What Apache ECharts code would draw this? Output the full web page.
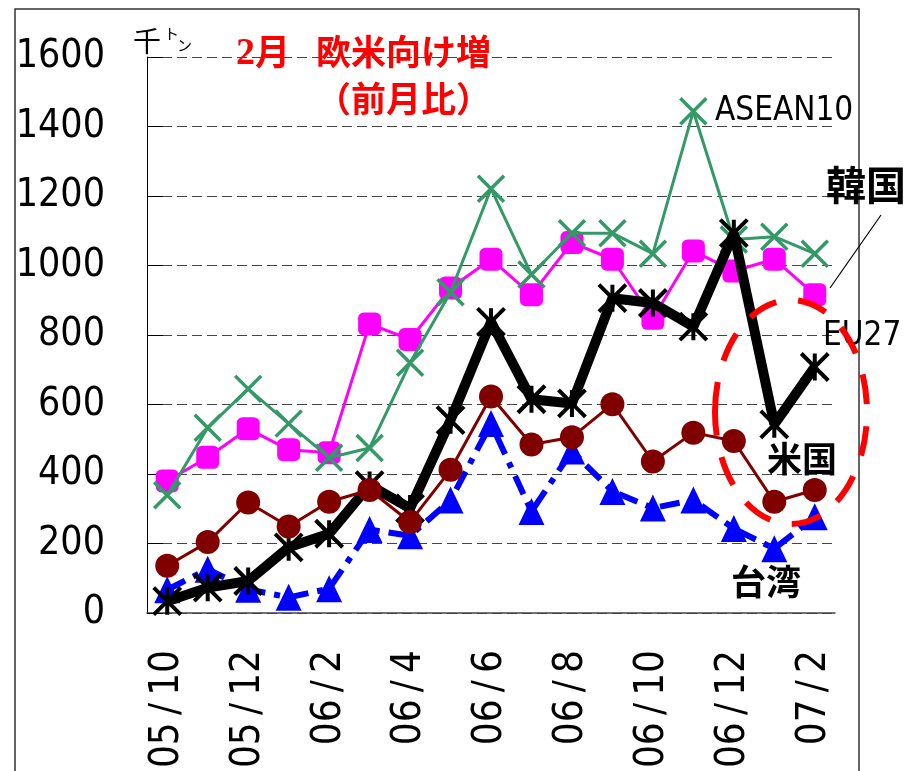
<!DOCTYPE html>
<html>
<head>
<meta charset="utf-8">
<script src="https://cdn.jsdelivr.net/npm/echarts@6/dist/echarts.min.js"></script>
<style>
html,body{margin:0;padding:0;background:#fff;}
#c{width:921px;height:771px;}
</style>
</head>
<body>
<div id="c"></div>
<script>
// ---- data ----
var categories = ['05/10','05/11','05/12','06/1','06/2','06/3','06/4','06/5','06/6','06/7','06/8','06/9','06/10','06/11','06/12','07/1','07/2'];
var asean10 = [339, 533, 645, 545, 447, 475, 720, 923, 1221, 974, 1093, 1093, 1034, 1444, 1075, 1083, 1034];
var korea   = [380, 448, 530, 470, 461, 832, 787, 935, 1018, 916, 1066, 1018, 848, 1042, 984, 1018, 916];
var eu27    = [34, 73, 92, 189, 228, 368, 301, 555, 838, 615, 603, 906, 892, 824, 1093, 543, 708];
var usa     = [136, 204, 318, 249, 320, 354, 262, 412, 623, 485, 506, 601, 436, 519, 495, 320, 354];
var taiwan  = [67, 126, 68, 45, 70, 240, 222, 325, 545, 292, 466, 350, 302, 325, 243, 185, 277];
var yTicks = {min: 0, max: 1600, interval: 200};
var seriesNames = ['台湾', '韓国', 'ASEAN10', 'EU27', '米国'];
var titleNum = '2';
var titleMonth = '月';
var titleLine1b = '欧米向け増';
var titleLine2 = '（前月比）';

var narrow = "'DejaVu Sans Condensed', 'Liberation Sans', sans-serif";
var cjk = "'Noto Sans CJK JP', sans-serif";

var chart = echarts.init(document.getElementById('c'), null, {renderer: 'canvas'});
var xPath = 'path://M0,0L20,20M20,0L0,20';
var starPath = 'path://M10,0L10,20M0,0L20,20M0,20L20,0';

var option = {
  animation: false,
  backgroundColor: '#fff',
  grid: {left: 147, top: 57, width: 688, height: 556, outerBoundsMode: 'none', containLabel: false},
  xAxis: {
    type: 'category',
    data: categories,
    boundaryGap: true,
    axisLine: {lineStyle: {color: '#444', width: 1.5}},
    axisTick: {inside: true, length: 11, interval: 0, lineStyle: {color: '#333', width: 1}},
    axisLabel: {
      interval: 1, rotate: 90, margin: 37,
      fontFamily: narrow, fontSize: 40, color: '#000',
      formatter: function (v) { return v.replace('/', '\u2009/\u2009'); }
    },
    splitLine: {show: false}
  },
  yAxis: {
    type: 'value',
    min: yTicks.min, max: yTicks.max, interval: yTicks.interval,
    axisLine: {show: true, lineStyle: {color: '#000', width: 1}},
    axisTick: {show: true, inside: true, length: 16, lineStyle: {color: '#000'}},
    axisLabel: {margin: 42, fontFamily: narrow, fontSize: 39, color: '#000', padding: [0, 0, 12, 0],
      formatter: function (v) { return String(v); }},
    splitLine: {show: true, lineStyle: {type: [10, 5], color: '#444', width: 1}}
  },
  series: [
    {
      name: seriesNames[0], type: 'line', data: taiwan, z: 2, showAllSymbol: true,
      symbol: 'triangle', symbolSize: [26, 27],
      lineStyle: {color: '#0000ff', width: 6, type: [20, 9, 6, 9]},
      itemStyle: {color: '#0000ff'}
    },
    {
      name: seriesNames[1], type: 'line', data: korea, z: 3, showAllSymbol: true,
      symbol: 'roundRect', symbolSize: 23,
      lineStyle: {color: '#ff00ff', width: 3},
      itemStyle: {color: '#ff00ff'}
    },
    {
      name: seriesNames[2], type: 'line', data: asean10, z: 4, showAllSymbol: true,
      symbol: xPath, symbolSize: 26,
      lineStyle: {color: '#339966', width: 3},
      itemStyle: {color: 'rgba(0,0,0,0)', borderColor: '#339966', borderWidth: 3.5}
    },
    {
      name: seriesNames[3], type: 'line', data: eu27, z: 5, showAllSymbol: true,
      symbol: starPath, symbolSize: 27,
      lineStyle: {color: '#000', width: 10},
      itemStyle: {color: 'rgba(0,0,0,0)', borderColor: '#000', borderWidth: 4}
    },
    {
      name: seriesNames[4], type: 'line', data: usa, z: 6, showAllSymbol: true,
      symbol: 'circle', symbolSize: 24,
      lineStyle: {color: '#800000', width: 3},
      itemStyle: {color: '#800000'}
    }
  ],
  graphic: [
    {type: 'rect', shape: {x: 15, y: 9, width: 844, height: 800}, style: {fill: 'none', stroke: '#333', lineWidth: 1.5}, z: 1, silent: true},
    {type: 'text', left: 133, top: 27, style: {text: '千', font: '28px ' + cjk, fill: '#000'}, z: 10},
    {type: 'text', left: 164, top: 26, style: {text: 'ト', font: '15px ' + cjk, fill: '#000'}, z: 10},
    {type: 'text', left: 177, top: 38, style: {text: 'ン', font: '15px ' + cjk, fill: '#000'}, z: 10},
    {type: 'text', x: 236, y: 54, style: {text: titleNum, font: "bold 38px 'Liberation Serif', serif", fill: '#ff0000', textVerticalAlign: 'middle'}, z: 10},
    {type: 'text', x: 255, y: 52, style: {text: titleMonth, font: 'bold 35px ' + cjk, fill: '#ff0000', textVerticalAlign: 'middle'}, z: 10},
    {type: 'text', x: 316, y: 52, style: {text: titleLine1b, font: 'bold 35px ' + cjk, fill: '#ff0000', textVerticalAlign: 'middle'}, z: 10},
    {type: 'text', x: 316, y: 99, style: {text: titleLine2, font: 'bold 35px ' + cjk, fill: '#ff0000', textVerticalAlign: 'middle'}, z: 10},
    {type: 'text', x: 715, y: 111, style: {text: 'ASEAN10', font: '33px ' + narrow, fill: '#000', textVerticalAlign: 'middle'}, z: 10},
    {type: 'text', x: 826, y: 185, style: {text: '韓国', font: 'bold 40px ' + cjk, fill: '#000', textVerticalAlign: 'middle'}, z: 10},
    {type: 'line', shape: {x1: 830, y1: 288, x2: 881, y2: 215}, style: {stroke: '#000', lineWidth: 1.2}, z: 10},
    {type: 'text', x: 823, y: 336, style: {text: 'EU27', font: '33px ' + narrow, fill: '#000', textVerticalAlign: 'middle'}, z: 10},
    {type: 'text', x: 767, y: 459, style: {text: '米国', font: 'bold 35px ' + cjk, fill: '#000', textVerticalAlign: 'middle'}, z: 10},
    {type: 'text', x: 731, y: 582, style: {text: '台湾', font: 'bold 35px ' + cjk, fill: '#000', textVerticalAlign: 'middle'}, z: 10},
    {type: 'ellipse', shape: {cx: 791, cy: 412, rx: 76, ry: 112}, style: {fill: 'none', stroke: '#ff0000', lineWidth: 6, lineDash: [30, 22]}, z: 20, silent: true}
  ]
};
chart.setOption(option);
</script>
</body>
</html>
